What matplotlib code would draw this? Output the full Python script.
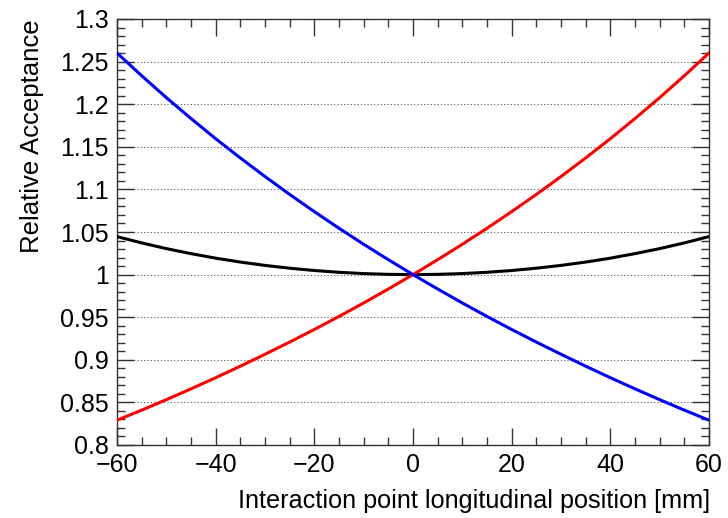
import matplotlib
matplotlib.use("Agg")
import matplotlib.pyplot as plt
from matplotlib.ticker import MultipleLocator

# Data (relative acceptance vs. z position)
z_mm = [-60, -55, -50, -45, -40, -35, -30, -25, -20, -15, -10, -5, 0,
        5, 10, 15, 20, 25, 30, 35, 40, 45, 50, 55, 60]
red_vals = [0.8291, 0.8409, 0.8532, 0.8659, 0.8790, 0.8925, 0.9065, 0.9208,
            0.9356, 0.9509, 0.9667, 0.9831, 1.0000, 1.0175, 1.0356, 1.0544,
            1.0739, 1.0941, 1.1151, 1.1369, 1.1595, 1.1832, 1.2077, 1.2334,
            1.2601]
blue_vals = [1.2601, 1.2334, 1.2077, 1.1832, 1.1595, 1.1369, 1.1151, 1.0941,
             1.0739, 1.0544, 1.0356, 1.0175, 1.0000, 0.9831, 0.9667, 0.9509,
             0.9356, 0.9208, 0.9065, 0.8925, 0.8790, 0.8659, 0.8532, 0.8409,
             0.8291]
black_vals = [1.0446, 1.0372, 1.0305, 1.0246, 1.0193, 1.0147, 1.0108, 1.0075,
              1.0048, 1.0027, 1.0012, 1.0003, 1.0000, 1.0003, 1.0012, 1.0027,
              1.0048, 1.0075, 1.0108, 1.0147, 1.0193, 1.0246, 1.0305, 1.0372,
              1.0446]

x_label = "Interaction point longitudinal position [mm]"
y_label = "Relative Acceptance"

plt.rcParams['font.family'] = ['Liberation Sans', 'DejaVu Sans']

fig = plt.figure(figsize=(7.28, 5.18), dpi=100)
ax = fig.add_axes([117/728, 1-445/518, (709-117)/728, (445-19)/518])

ax.plot(z_mm, black_vals, color='black', lw=2.2, zorder=3, solid_joinstyle='round')
ax.plot(z_mm, red_vals, color='#ff0000', lw=2.2, zorder=3, solid_joinstyle='round')
ax.plot(z_mm, blue_vals, color='#0000ff', lw=2.2, zorder=3, solid_joinstyle='round')

ax.set_xlim(-60, 60)
ax.set_ylim(0.8, 1.3)
ax.xaxis.set_major_locator(MultipleLocator(20))
ax.xaxis.set_minor_locator(MultipleLocator(5))
ax.yaxis.set_major_locator(MultipleLocator(0.05))
ax.yaxis.set_minor_locator(MultipleLocator(0.01))

def fmt(v, pos):
    s = ('%.2f' % v).rstrip('0').rstrip('.')
    return s
ax.yaxis.set_major_formatter(plt.FuncFormatter(fmt))
ax.xaxis.set_major_formatter(plt.FuncFormatter(lambda v, p: ('%d' % round(v)).replace('-', '\u2212')))

ax.grid(axis='y', which='major', linestyle=(0, (1, 2)), color='#555555', lw=0.8)
ax.set_axisbelow(True)

ax.tick_params(which='both', direction='in', top=True, right=True,
               labelsize=18, color='#333333')
ax.tick_params(which='major', length=12, width=1)
ax.tick_params(which='minor', length=6, width=1)
ax.tick_params(axis='x', pad=6)
ax.tick_params(axis='y', pad=6)
for s in ax.spines.values():
    s.set_color('#333333')
    s.set_linewidth(1.0)

fig.text(710/728, 1-501/518, x_label, ha='right', va='center', fontsize=18.2)
fig.text(32/728, 1-19/518, y_label, ha='center', va='top', rotation=90, fontsize=18.5)

fig.savefig('out.png', dpi=100)
